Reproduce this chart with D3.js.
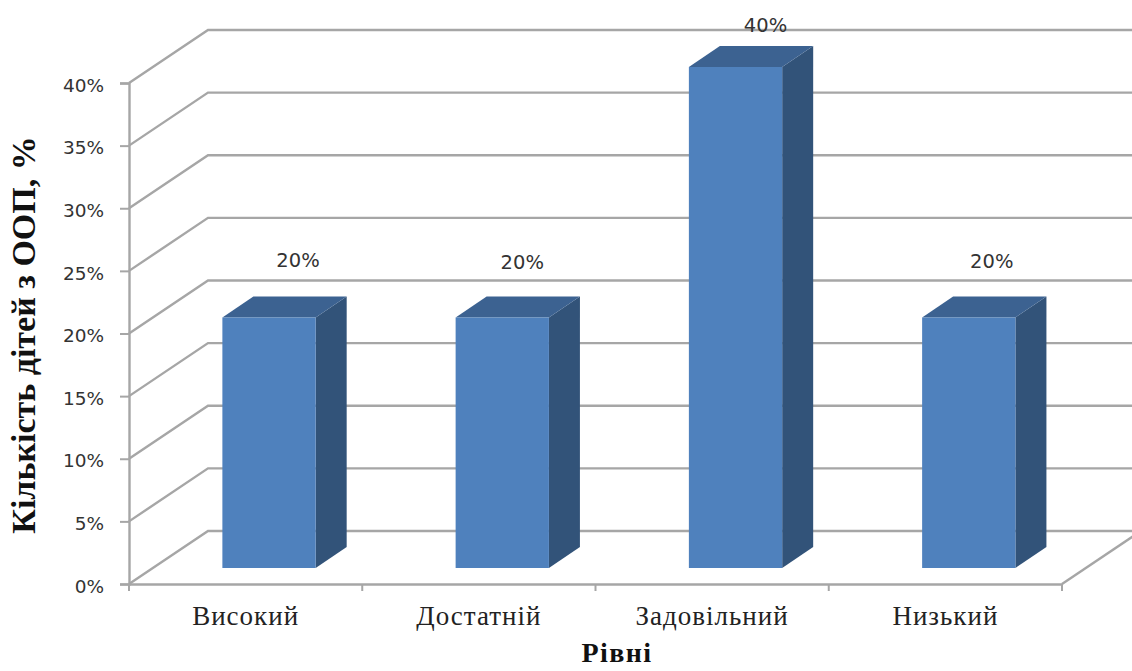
<!DOCTYPE html>
<html>
<head>
<meta charset="utf-8">
<script src="https://cdn.jsdelivr.net/npm/d3@7/dist/d3.min.js"></script>
<style>
  html, body { margin: 0; padding: 0; background: #fff; overflow: hidden; }
  svg { display: block; }
</style>
</head>
<body>
<script>
// Chart data
const levels = ["Високий", "Достатній", "Задовільний", "Низький"];
const shares = [20, 20, 40, 20];
const yTicks = [0, 5, 10, 15, 20, 25, 30, 35, 40];
const yTitle = "Кількість дітей з ООП, %";
const xTitle = "Рівні";

// Hand placement of the value labels, relative to each bar's front top edge
const labelNudge = [[29, -56], [20, -54], [30, -41], [23, -55]];

const W = 1132, H = 671;
const depth = { x: 79, y: -53 };      // floor depth of the oblique projection
const barDepth = { x: 31, y: -21 };   // depth of each bar
const inset = { x: (depth.x - barDepth.x) / 2 - 0.6, y: (depth.y - barDepth.y) / 2 };

const svg = d3.select("body").append("svg").attr("width", W).attr("height", H);

const x = d3.scaleBand().domain(levels).range([129, 1062]).paddingInner(0.6).paddingOuter(0.3);
const y = d3.scaleLinear().domain([0, 40]).range([584, 83]);

const gridColor = "#a6a6a6", axisColor = "#a6a6a6";
const labelFill = "#333333";

// Walls: slanted side-wall line plus horizontal back-wall line for each tick
const grid = svg.append("g").attr("fill", "none").attr("stroke", gridColor).attr("stroke-width", 2.4);
grid.selectAll("path").data(yTicks).join("path")
  .attr("d", t => {
    const p = d3.path();
    p.moveTo(129, y(t));
    p.lineTo(129 + depth.x, y(t) + depth.y);
    p.lineTo(W, y(t) + depth.y);
    return p.toString();
  });

// Floor edge on the right
grid.append("path").attr("d", () => {
  const p = d3.path();
  p.moveTo(x.range()[1], y(0));
  p.lineTo(x.range()[1] + depth.x, y(0) + depth.y);
  return p.toString();
});

// Value axis
const yAxis = svg.append("g")
  .attr("transform", "translate(129,0)")
  .call(d3.axisLeft(y).tickValues(yTicks).tickSize(9).tickPadding(16).tickFormat(d => d + "%"));
yAxis.select(".domain").attr("stroke", axisColor).attr("stroke-width", 2.4);
yAxis.selectAll(".tick line").attr("stroke", axisColor).attr("stroke-width", 2);
yAxis.selectAll("text")
  .attr("font-family", "'DejaVu Sans', Verdana, sans-serif")
  .attr("dy", "0.44em")
  .attr("font-size", 18.5).attr("fill", labelFill);

// Category axis: labels on band centres, ticks on band edges
const xAxis = svg.append("g")
  .attr("transform", `translate(0,${y(0)})`)
  .call(d3.axisBottom(x).tickSize(0).tickPadding(22));
xAxis.select(".domain").attr("stroke", axisColor).attr("stroke-width", 2.4);
xAxis.selectAll("text")
  .attr("font-family", "'Liberation Serif', 'Times New Roman', serif")
  .attr("font-size", 27).attr("letter-spacing", 1).attr("fill", "#222");
xAxis.selectAll("line.edge").data(d3.range(levels.length + 1)).join("line")
  .attr("class", "edge")
  .attr("x1", i => x.range()[0] + i * x.step()).attr("x2", i => x.range()[0] + i * x.step())
  .attr("y1", 0).attr("y2", 7)
  .attr("stroke", axisColor).attr("stroke-width", 2);

// Bars: front face, top face, side face
const bars = svg.append("g").selectAll("g").data(levels.map((name, i) => ({ name, value: shares[i], nudge: labelNudge[i] })))
  .join("g");

const corners = d => {
  const l = x(d.name) + inset.x, r = l + x.bandwidth();
  const base = y(0) + inset.y, top = y(d.value) + inset.y;
  return { l, r, base, top };
};
const poly = pts => d3.line()(pts) + "Z";

bars.append("path").attr("fill", "#325379").attr("d", d => {
  const c = corners(d);
  return poly([[c.r, c.top], [c.r + barDepth.x, c.top + barDepth.y], [c.r + barDepth.x, c.base + barDepth.y], [c.r, c.base]]);
});
bars.append("path").attr("fill", "#3c6291").attr("d", d => {
  const c = corners(d);
  return poly([[c.l, c.top], [c.l + barDepth.x, c.top + barDepth.y], [c.r + barDepth.x, c.top + barDepth.y], [c.r, c.top]]);
});
bars.append("path").attr("fill", "#4f81bd").attr("d", d => {
  const c = corners(d);
  return poly([[c.l, c.top], [c.r, c.top], [c.r, c.base], [c.l, c.base]]);
});

// Value labels
bars.append("text")
  .attr("x", d => { const c = corners(d); return (c.l + c.r) / 2 + d.nudge[0]; })
  .attr("y", d => corners(d).top + d.nudge[1])
  .attr("text-anchor", "middle")
  .attr("dominant-baseline", "middle")
  .attr("font-family", "'DejaVu Sans', Verdana, sans-serif")
  .attr("font-size", 19.5).attr("fill", labelFill)
  .text(d => d.value + "%");

// Axis titles
svg.append("text")
  .attr("transform", "translate(27,335) rotate(-90)")
  .attr("text-anchor", "middle").attr("dominant-baseline", "middle")
  .attr("font-family", "'Liberation Serif', 'Times New Roman', serif")
  .attr("font-weight", "bold").attr("font-size", 34).attr("fill", "#111")
  .text(yTitle);
svg.append("text")
  .attr("x", 617).attr("y", 656)
  .attr("text-anchor", "middle").attr("dominant-baseline", "middle")
  .attr("font-family", "'Liberation Serif', 'Times New Roman', serif")
  .attr("font-weight", "bold").attr("font-size", 28).attr("letter-spacing", 1.4).attr("fill", "#111")
  .text(xTitle);
</script>
</body>
</html>
